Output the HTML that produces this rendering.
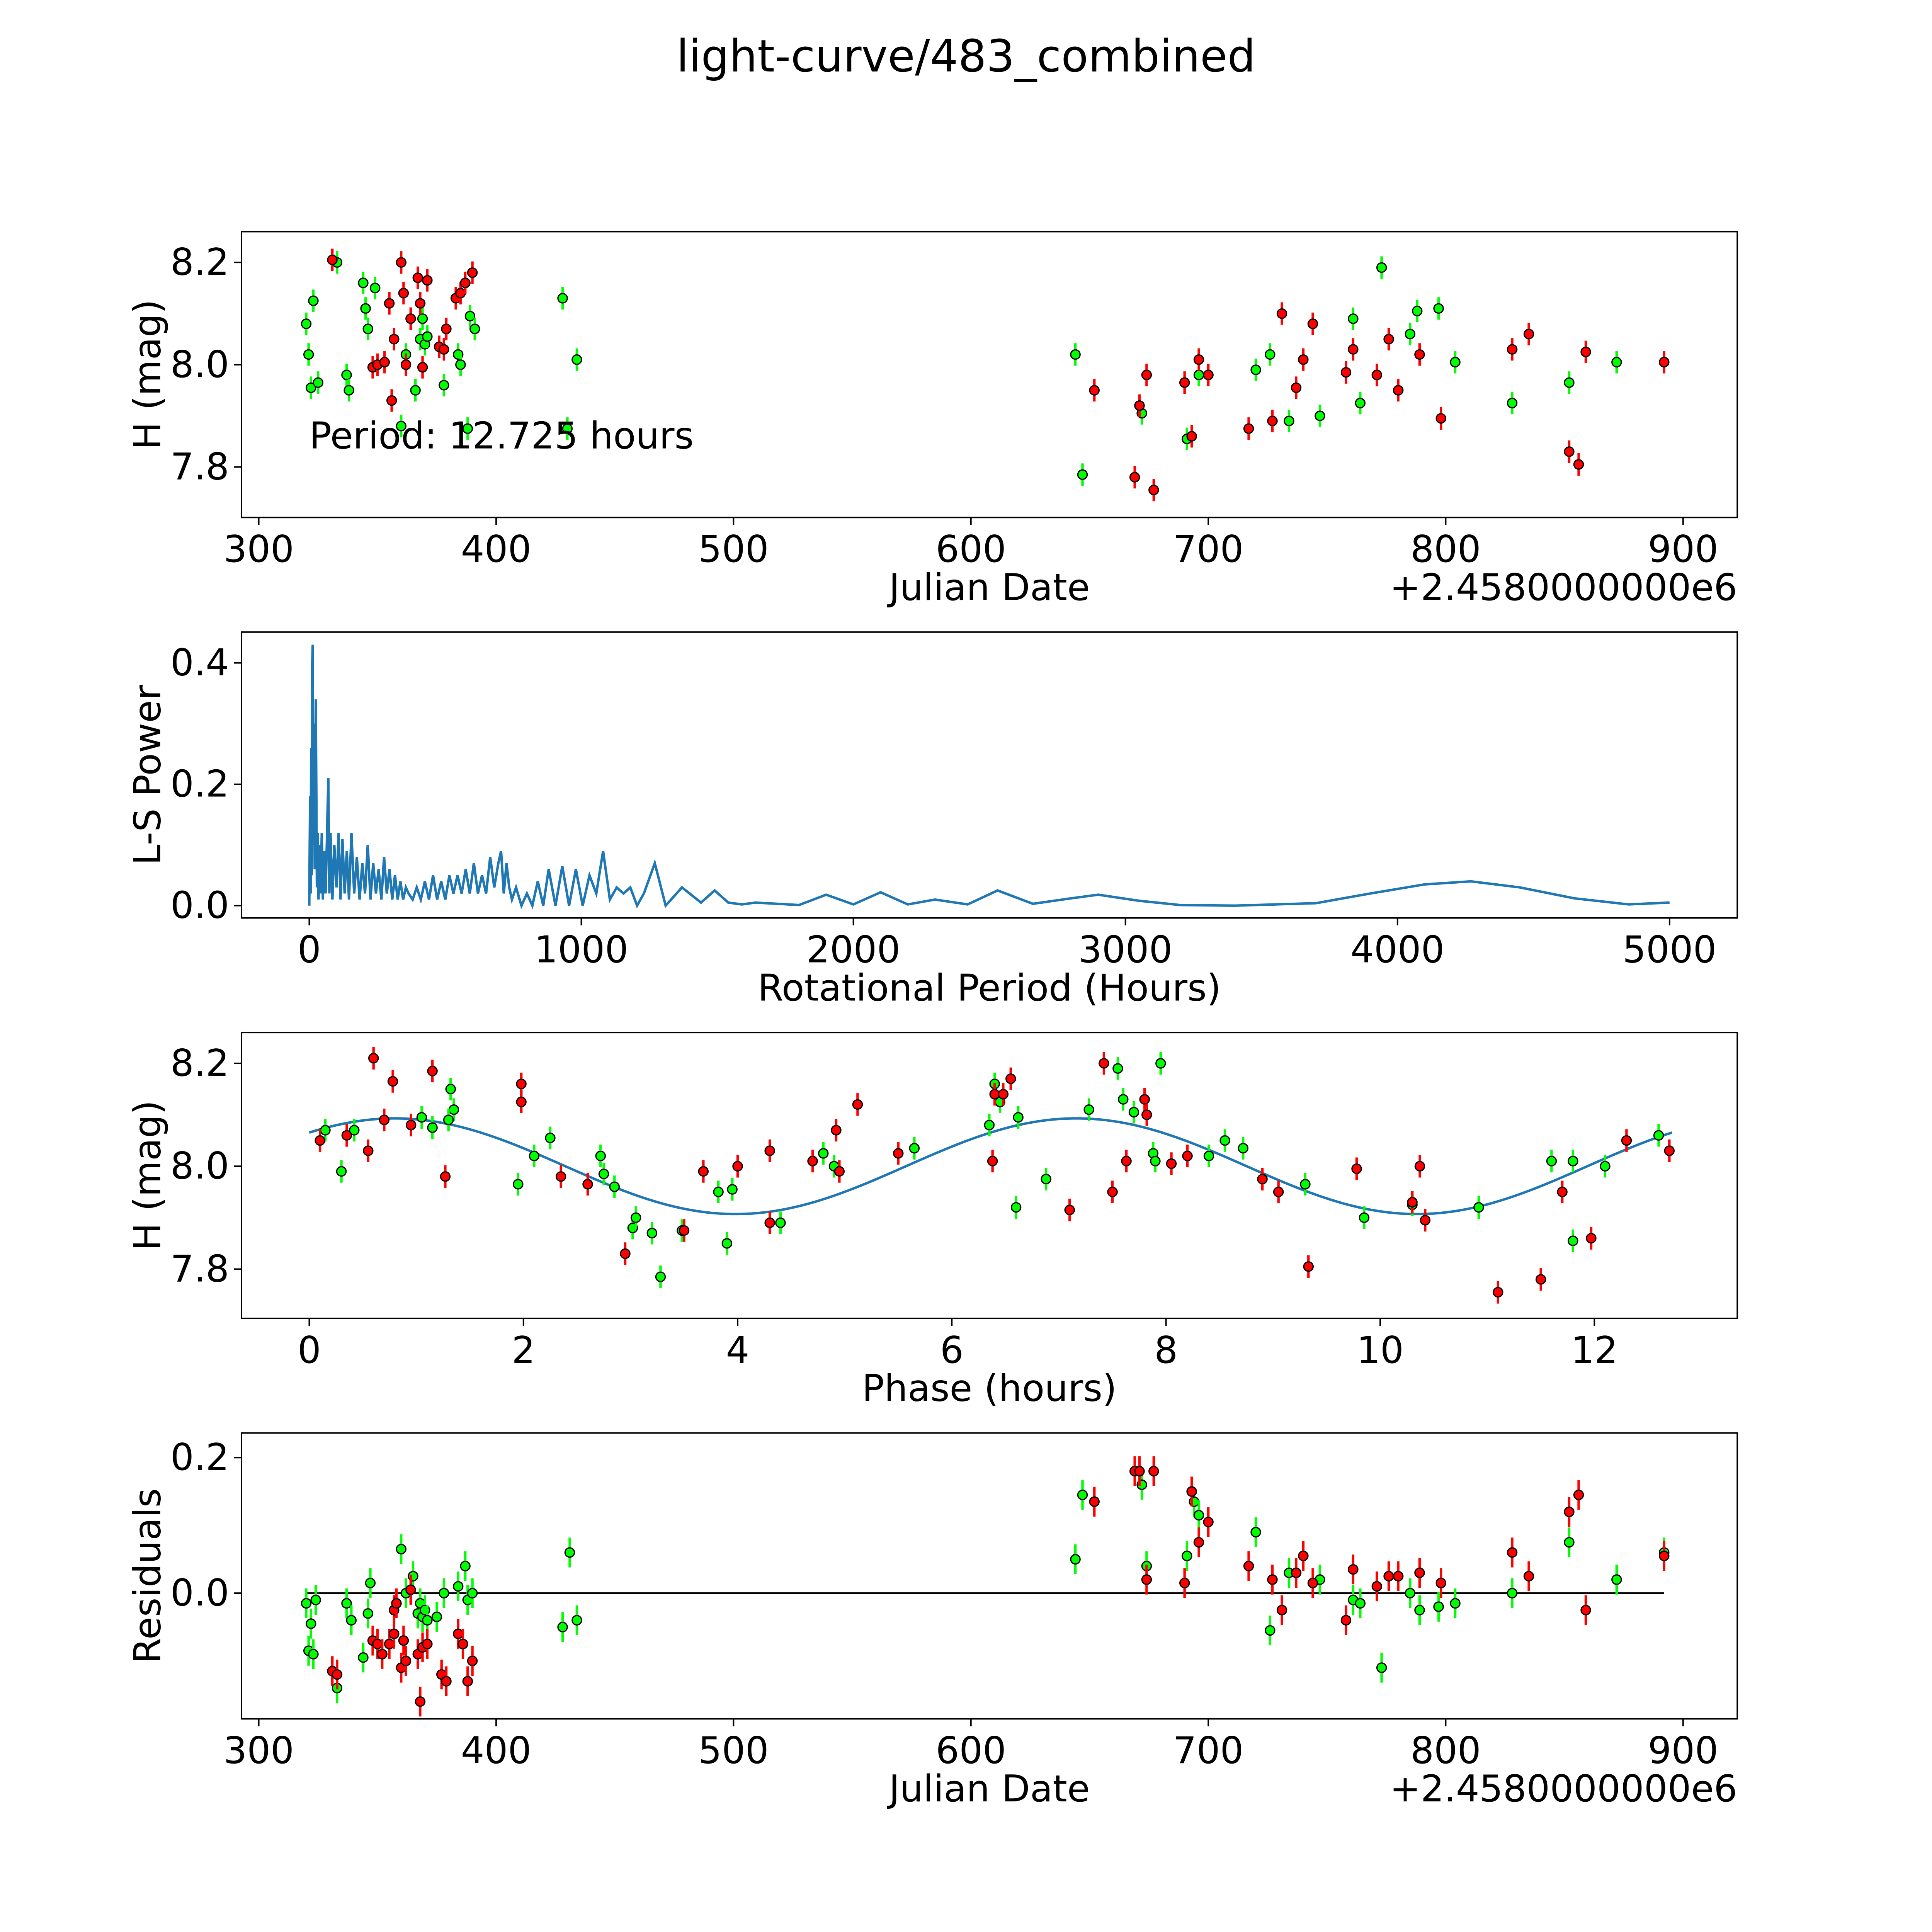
<!DOCTYPE html>
<html><head><meta charset="utf-8"><style>
html,body{margin:0;padding:0;background:#fff;overflow:hidden;width:100%;height:100%}
svg{display:block;position:absolute;left:0;top:0;width:100vw;height:100vh;font-family:"DejaVu Sans","Liberation Sans",sans-serif}
</style></head><body>
<svg id="fig" viewBox="0 0 1568 1568" preserveAspectRatio="none" xmlns="http://www.w3.org/2000/svg">
<rect width="1568" height="1568" fill="#fff"/>
<text x="784" y="58" font-size="36" text-anchor="middle">light-curve/483_combined</text>
<g id="g1"></g>
<g id="g2"></g>
<g id="g3"></g>
<g id="g4"></g>
</svg>
<script>
// ---- Light curve data (JD offset, mag) ----
const lcGreenJD=[320,321,322,323,325,337,338,344,345,346,349,333,360,362,366,368,369,370,371,378,384,385,388,389,391,428,430,434,644,647,672,691,696,720,726,734,747,761,764,773,785,788,797,804,828,852,872,892];
const lcGreenMag=[8.08,8.02,7.955,8.125,7.965,7.98,7.95,8.16,8.11,8.07,8.15,8.2,7.88,8.02,7.95,8.05,8.09,8.04,8.055,7.96,8.02,8.0,7.875,8.095,8.07,8.13,7.875,8.01,8.02,7.785,7.905,7.855,7.98,7.99,8.02,7.89,7.9,8.09,7.925,8.19,8.06,8.105,8.11,8.005,7.925,7.965,8.005,8.005];
const lcRedJD=[331,348,350,353,355,356,357,360,361,362,364,367,368,369,371,376,378,379,383,385,387,390,652,669,671,674,677,690,693,696,700,717,727,731,737,740,744,758,761,776,771,780,789,798,828,835,852,856,859,892];
const lcRedMag=[8.205,7.995,8.0,8.005,8.12,7.93,8.05,8.2,8.14,8.0,8.09,8.17,8.12,7.995,8.165,8.035,8.03,8.07,8.13,8.14,8.16,8.18,7.95,7.78,7.92,7.98,7.755,7.965,7.86,8.01,7.98,7.875,7.89,8.1,7.955,8.01,8.08,7.985,8.03,8.05,7.98,7.95,8.02,7.895,8.03,8.06,7.83,7.805,8.025,8.005];
// ---- Phase data ----
const phRedP=[0.1,0.35,0.55,0.6,0.7,0.78,0.95,1.15,1.27,1.98,1.98,2.35,2.6,2.95,3.5,3.68,4.0,4.3,4.3,4.7,4.92,4.95,5.12,5.5,6.38,6.4,6.48,6.55,7.1,7.42,7.5,7.63,7.8,7.82,8.05,8.2,8.9,9.05,9.33,9.78,10.3,10.37,10.42,11.1,11.5,11.7,11.97,12.3,12.7];
const phRedMag=[8.05,8.06,8.03,8.21,8.09,8.165,8.08,8.185,7.98,8.16,8.125,7.98,7.965,7.83,7.875,7.99,8.0,8.03,7.89,8.01,8.07,7.99,8.12,8.025,8.01,8.14,8.14,8.17,7.915,8.2,7.95,8.01,8.13,8.1,8.005,8.02,7.975,7.95,7.805,7.995,7.93,8.0,7.895,7.755,7.78,7.95,7.86,8.05,8.03];
const phGreenP=[0.15,0.3,0.42,1.05,1.15,1.32,1.35,1.3,1.95,2.1,2.25,2.72,2.75,2.85,3.02,3.05,3.2,3.28,3.48,3.82,3.9,3.95,4.4,4.8,4.9,5.65,6.35,6.4,6.45,6.62,6.6,6.88,7.28,7.55,7.6,7.7,7.88,7.9,7.95,8.4,8.55,8.72,9.3,9.85,10.3,10.92,11.6,11.8,11.8,12.1,12.6];
const phGreenMag=[8.07,7.99,8.07,8.095,8.075,8.15,8.11,8.09,7.965,8.02,8.055,8.02,7.985,7.96,7.88,7.9,7.87,7.785,7.875,7.95,7.85,7.955,7.89,8.025,8.0,8.035,8.08,8.16,8.125,8.095,7.92,7.975,8.11,8.19,8.13,8.105,8.025,8.01,8.2,8.02,8.05,8.035,7.965,7.9,7.925,7.92,8.01,7.855,8.01,8.0,8.06];
const fitMean=[8.0], fitAmp=[0.093], fitPeak=[0.8], fitHalfPeriod=[6.3625], fitSpan=[12.725];
// ---- Residuals ----
const resGreenJD=[320,321,322,323,324,333,337,339,344,346,347,352,360,362,365,367,368,369,370,371,375,378,384,387,388,390,428,431,434,644,647,672,674,691,694,696,720,726,734,747,761,764,773,785,789,797,804,828,852,872,892];
const resGreen=[-0.015,-0.085,-0.045,-0.09,-0.01,-0.14,-0.015,-0.04,-0.095,-0.03,0.015,-0.09,0.065,0.0,0.025,-0.03,-0.015,-0.035,-0.025,-0.04,-0.035,0.0,0.01,0.04,-0.01,0.0,-0.05,0.06,-0.04,0.05,0.145,0.16,0.04,0.055,0.135,0.115,0.09,-0.055,0.03,0.02,-0.01,-0.015,-0.11,0.0,-0.025,-0.02,-0.015,0.0,0.075,0.02,0.06];
const resRedJD=[331,333,348,350,352,355,357,357,358,360,361,362,364,367,368,369,371,377,379,384,386,388,390,652,669,671,674,677,690,693,696,700,717,727,731,737,740,744,758,761,771,776,780,789,798,828,835,856,852,859,892];
const resRed=[-0.115,-0.12,-0.07,-0.075,-0.09,-0.075,-0.06,-0.025,-0.015,-0.11,-0.07,-0.1,0.005,-0.09,-0.16,-0.08,-0.075,-0.12,-0.13,-0.06,-0.075,-0.13,-0.1,0.135,0.18,0.18,0.02,0.18,0.015,0.15,0.075,0.105,0.04,0.02,-0.025,0.03,0.055,0.015,-0.04,0.035,0.01,0.025,0.025,0.03,0.015,0.06,0.025,0.145,0.12,-0.025,0.055];
const magErr=[0.022];
// ---- Periodogram ----
const lsPeriod=[0,3,5,7,9,11,12.7,14,17,20,24,28,31,34,38,42,46,50,55,60,65,70,74,78,85,92,100,108,115,122,130,138,146,155,165,175,185,195,205,215,225,235,245,255,265,275,285,295,305,315,325,335,345,355,365,380,395,410,425,440,455,470,485,500,515,530,545,560,575,590,605,620,635,650,665,680,695,705,715,725,735,745,760,780,800,820,840,860,880,905,930,955,980,1005,1030,1055,1080,1105,1130,1155,1180,1205,1230,1270,1310,1370,1440,1490,1540,1590,1640,1800,1900,2000,2100,2200,2300,2420,2530,2660,2800,2900,3050,3200,3400,3700,3900,4100,4270,4450,4650,4850,5000];
const lsPower=[0.0,0.18,0.02,0.26,0.05,0.40,0.43,0.10,0.30,0.06,0.34,0.03,0.12,0.01,0.10,0.02,0.12,0.01,0.09,0.02,0.11,0.21,0.02,0.12,0.01,0.10,0.03,0.12,0.01,0.11,0.02,0.09,0.01,0.12,0.02,0.08,0.01,0.07,0.02,0.10,0.01,0.07,0.02,0.06,0.01,0.08,0.02,0.06,0.01,0.05,0.01,0.04,0.01,0.03,0.02,0.01,0.03,0.01,0.04,0.01,0.05,0.01,0.04,0.01,0.05,0.02,0.05,0.02,0.06,0.02,0.07,0.02,0.05,0.02,0.08,0.03,0.07,0.09,0.02,0.07,0.03,0.01,0.03,0.0,0.02,0.0,0.04,0.0,0.06,0.0,0.065,0.0,0.06,0.0,0.05,0.02,0.09,0.01,0.03,0.02,0.03,0.0,0.02,0.07,0.0,0.03,0.005,0.025,0.005,0.002,0.005,0.001,0.018,0.002,0.022,0.002,0.01,0.002,0.025,0.003,0.012,0.018,0.008,0.001,0.0,0.004,0.02,0.035,0.04,0.03,0.012,0.002,0.005];

const NS='http://www.w3.org/2000/svg';
const FS=30;
function mk(tag,attrs,parent){const e=document.createElementNS(NS,tag);for(const k in attrs)e.setAttribute(k,attrs[k]);parent.appendChild(e);return e;}
function lin(d0,d1,r0,r1){return v=>r0+(v-d0)*(r1-r0)/(d1-d0);}

function axes(g,box,xs,ys,xt,xtl,yt,ytl,xlabel,ylabel,offset){
  const fr=mk('rect',{x:box[0],y:box[1],width:box[2]-box[0],height:box[3]-box[1],fill:'none',stroke:'#000','stroke-width':1.2},g);
  
  
  xt.forEach((v,i)=>{const x=xs(v);
    mk('line',{x1:x,x2:x,y1:box[3],y2:box[3]+6,stroke:'#000','stroke-width':1.2},g);
    const t=mk('text',{x:x,y:box[3]+36,'font-size':FS,'text-anchor':'middle'},g);t.textContent=xtl[i];
    
    });
  yt.forEach((v,i)=>{const y=ys(v);
    mk('line',{x1:box[0]-6,x2:box[0],y1:y,y2:y,stroke:'#000','stroke-width':1.2},g);
    const t=mk('text',{x:box[0]-10,y:y+10,'font-size':FS,'text-anchor':'end'},g);t.textContent=ytl[i];
    
    });
  const xl=mk('text',{x:(box[0]+box[2])/2,y:box[3]+67,'font-size':FS,'text-anchor':'middle'},g);xl.textContent=xlabel;
  
  
  const cy=(box[1]+box[3])/2;
  const yl=mk('text',{x:0,y:0,'font-size':FS,'text-anchor':'middle',transform:`translate(130,${cy}) rotate(-90)`},g);yl.textContent=ylabel;
  
  
  if(offset){const o=mk('text',{x:box[2],y:box[3]+67,'font-size':FS,'text-anchor':'end'},g);o.textContent=offset;
    
    }
}
function points(g,xsArr,ysArr,xs,ys,color,errScale){
  xsArr.forEach((v,i)=>{const x=xs(v),y=ys(ysArr[i]);const e=Math.abs(ys(ysArr[i]+magErr[0])-y)*errScale;
    const l=mk('line',{x1:x,x2:x,y1:y-e,y2:y+e,stroke:color,'stroke-width':2},g);
    
    
    const c=mk('circle',{cx:x,cy:y,r:3.8,fill:color,stroke:'#000','stroke-width':1},g);
    
    });
}
const jdT=[300,400,500,600,700,800,900];
// Panel 1
{const g=document.getElementById('g1');const box=[196,188,1410,420];
 const xs=lin(300,900,210,1366),ys=lin(7.8,8.2,379,213);
 axes(g,box,xs,ys,jdT,jdT.map(String),[7.8,8.0,8.2],['7.8','8.0','8.2'],'Julian Date','H (mag)','+2.4580000000e6');
 points(g,lcGreenJD,lcGreenMag,xs,ys,'#00ff00',1);
 points(g,lcRedJD,lcRedMag,xs,ys,'#ff0000',1);
 const t=mk('text',{x:251,y:364,'font-size':30},g);t.textContent='Period: 12.725 hours';
 
 }
// Panel 2
{const g=document.getElementById('g2');const box=[196,513,1410,745];
 const xs=lin(0,5000,251,1355),ys=lin(0,0.4,735,538);
 axes(g,box,xs,ys,[0,1000,2000,3000,4000,5000],['0','1000','2000','3000','4000','5000'],[0,0.2,0.4],['0.0','0.2','0.4'],'Rotational Period (Hours)','L-S Power');
 const p=mk('polyline',{points:lsPeriod.map((v,i)=>xs(v)+','+ys(lsPower[i])).join(' '),fill:'none',stroke:'#1f77b4','stroke-width':2},g);
 
 }
// Panel 3
{const g=document.getElementById('g3');const box=[196,838,1410,1070];
 const xs=lin(0,12,251,1294),ys=lin(7.8,8.2,1030,863);
 axes(g,box,xs,ys,[0,2,4,6,8,10,12],['0','2','4','6','8','10','12'],[7.8,8.0,8.2],['7.8','8.0','8.2'],'Phase (hours)','H (mag)');
 const pts=[];for(let i=0;i<=200;i++){const p=fitSpan[0]*i/200;pts.push(xs(p)+','+ys(fitMean[0]+fitAmp[0]*Math.cos(2*Math.PI*(p-fitPeak[0])/fitHalfPeriod[0])));}
 const f=mk('polyline',{points:pts.join(' '),fill:'none',stroke:'#1f77b4','stroke-width':2},g);
 
 
 points(g,phGreenP,phGreenMag,xs,ys,'#00ff00',1);
 points(g,phRedP,phRedMag,xs,ys,'#ff0000',1);}
// Panel 4
{const g=document.getElementById('g4');const box=[196,1163,1410,1395];
 const xs=lin(300,900,210,1366),ys=lin(0,0.2,1293,1183);
 axes(g,box,xs,ys,jdT,jdT.map(String),[0,0.2],['0.0','0.2'],'Julian Date','Residuals','+2.4580000000e6');
 const z=mk('line',{x1:xs(320),x2:xs(892),y1:ys(0),y2:ys(0),stroke:'#000','stroke-width':1.5},g);
 
 
 points(g,resGreenJD,resGreen,xs,ys,'#00ff00',1);
 points(g,resRedJD,resRed,xs,ys,'#ff0000',1);}
</script>
</body></html>
